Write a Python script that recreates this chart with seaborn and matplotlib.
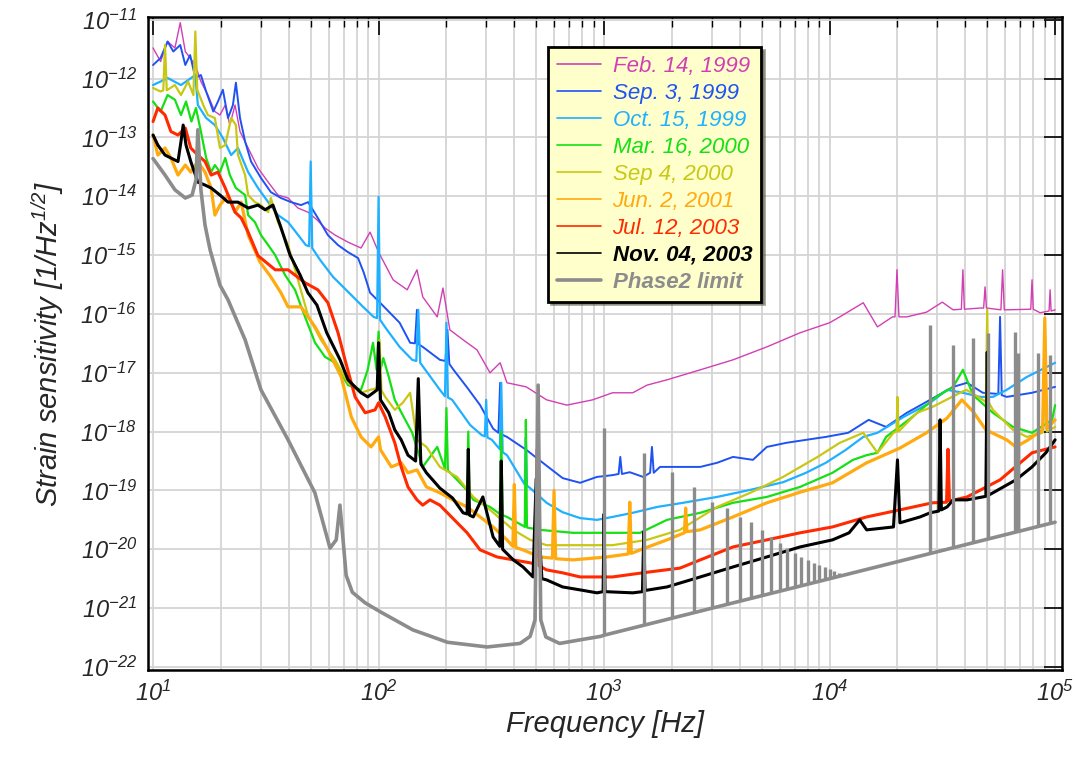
import numpy as np
import seaborn as sns
import matplotlib.pyplot as plt
from matplotlib import ticker

# Strain sensitivity curves.
# Frequencies in Hz, strain given as log10 of 1/sqrt(Hz)

feb99_hz = [10, 10.8, 11.6, 12.5, 13.2, 13.9, 14.6, 15.4, 16.3, 17.5, 18.8, 19.8, 20.9, 21.9, 23.1, 24.3,
            26.4, 29.2, 32.4, 35.8, 39.7, 43.9, 48.6, 53.3, 57.9, 64.1, 73.2, 83.6, 91.7, 100, 116, 134,
            148, 157, 182, 193, 207, 237, 273, 312, 346, 371, 452, 556, 684, 890, 1090, 1340, 1550, 1900,
            2670, 3730, 5270, 7400, 10000, 11100, 14100, 16300, 19000, 19500, 19900, 20300, 22000, 26900,
            31600, 35300, 38400, 39000, 39600, 46500, 48200, 48900, 49600, 57500, 58500, 59500, 61000,
            78000, 79000, 80000, 85800, 94000, 95000, 96000, 100000]
feb99_log = [-11.48, -11.71, -11.37, -11.48, -11.05, -11.54, -11.65, -11.77, -12.05, -12.28, -12.56, -12.62,
             -12.45, -12.79, -12.45, -12.90, -13.18, -13.52, -13.76, -13.98, -14.03, -14.20, -14.27, -14.40,
             -14.54, -14.66, -14.78, -14.88, -14.61, -14.95, -15.42, -15.59, -15.25, -15.71, -16.05, -15.56,
             -16.27, -16.44, -16.61, -17.00, -16.83, -17.17, -17.24, -17.46, -17.55, -17.46, -17.34, -17.34,
             -17.21, -17.12, -16.95, -16.78, -16.56, -16.32, -16.15, -16.05, -15.81, -16.22, -16.05, -16.05,
             -15.25, -16.05, -16.05, -15.97, -15.80, -15.93, -15.92, -15.25, -15.92, -15.90, -15.90, -15.54,
             -15.90, -15.93, -15.25, -15.93, -15.93, -15.92, -15.42, -15.92, -15.98, -15.95, -15.59, -15.95,
             -15.93]

sep99_hz = [10, 10.8, 11.6, 12.3, 13.2, 13.9, 14.6, 15.4, 16.3, 17.2, 18.5, 19.4, 20.4, 21.5, 22.6, 23.3,
            24.3, 25.6, 27.2, 30.1, 33.3, 36.9, 40.9, 45.3, 48.7, 53.8, 59.6, 66.1, 73.2, 81.1, 86, 91.7,
            98.6, 109, 124, 138, 145, 148, 151, 157, 187, 198, 202, 206, 215, 247, 282, 322, 340, 346, 352,
            371, 452, 556, 655, 783, 930, 1090, 1160, 1180, 1200, 1300, 1490, 1600, 1630, 1660, 1770, 2240,
            2670, 3170, 3730, 4570, 5270, 6440, 7860, 9620, 12100, 14900, 17800, 22000, 27900, 35300, 40700,
            47800, 56000, 57000, 58000, 61000, 79000, 100000]
sep99_log = [-11.77, -11.65, -11.37, -11.54, -11.43, -11.77, -11.60, -11.99, -11.94, -12.22, -12.56, -12.39,
             -12.19, -12.67, -12.45, -12.07, -12.67, -13.07, -13.41, -13.69, -13.93, -14.03, -14.10, -14.15,
             -14.10, -14.37, -14.66, -14.83, -14.95, -15.05, -15.30, -15.64, -15.76, -15.93, -16.15, -16.49,
             -16.50, -15.93, -16.52, -16.56, -16.78, -16.80, -16.27, -16.85, -16.95, -17.25, -17.55, -17.95,
             -18.02, -17.17, -18.05, -18.09, -18.31, -18.58, -18.79, -18.87, -18.77, -18.74, -18.72, -18.43,
             -18.72, -18.69, -18.77, -18.70, -18.26, -18.70, -18.60, -18.60, -18.60, -18.53, -18.43, -18.48,
             -18.26, -18.19, -18.14, -18.09, -18.02, -17.80, -17.92, -17.68, -17.46, -17.24, -17.17, -17.34,
             -17.36, -16.05, -17.38, -17.41, -17.34, -17.24]

oct99_hz = [10, 10.8, 11.6, 13.3, 15.4, 15.8, 17.2, 18.8, 20.4, 22.2, 23.8, 26.4, 29.2, 32.4, 35.8, 39.7,
            43.0, 47.6, 49.2, 50, 50.8, 55, 62.8, 69.6, 77.1, 85.4, 95, 98.5, 100, 101.5, 109, 124, 141,
            147, 150, 153, 187, 197, 200, 203, 212, 255, 287, 296, 300, 304, 318, 345, 350, 355, 371, 445,
            450, 455, 470, 556, 655, 783, 930, 1090, 1340, 1720, 2240, 3170, 4450, 6220, 7860, 9620, 11800,
            14100, 16300, 21300, 27900, 33200, 39000, 46500, 53000, 61000, 75000, 100000]
oct99_log = [-12.11, -12.05, -11.99, -12.11, -11.94, -12.45, -12.67, -12.79, -13.01, -13.30, -13.18, -13.59,
             -13.86, -14.10, -14.32, -14.44, -14.61, -14.83, -14.85, -13.41, -14.88, -15.08, -15.37, -15.54,
             -15.71, -15.88, -16.05, -16.07, -14.01, -16.10, -16.27, -16.56, -16.78, -16.80, -15.93, -16.83,
             -17.29, -17.40, -16.15, -17.42, -17.46, -17.89, -18.06, -18.08, -17.46, -18.10, -18.14, -18.30,
             -17.17, -18.35, -18.40, -18.90, -18.10, -18.92, -18.96, -19.21, -19.37, -19.47, -19.50, -19.45,
             -19.38, -19.28, -19.21, -19.11, -18.99, -18.86, -18.70, -18.53, -18.31, -18.09, -18.02, -17.75,
             -17.51, -17.29, -17.34, -17.41, -17.41, -17.29, -17.07, -16.83]

mar00_hz = [10, 10.8, 11.6, 12.5, 13.3, 14.0, 14.8, 15.5, 16.3, 17.2, 18.1, 18.8, 19.8, 20.9, 21.9, 23.3,
            25.6, 26.4, 28.3, 30.1, 32.4, 34.8, 38.5, 42.6, 47.2, 52.3, 57.9, 64.1, 73.2, 83.6, 89.5, 94.5,
            98, 100, 102, 105, 111, 118, 128, 141, 157, 182, 197, 200, 203, 223, 247, 250, 253, 263, 312,
            345, 350, 355, 371, 437, 445, 450, 455, 520, 728, 1030, 1445, 1900, 2670, 3730, 5270, 7400,
            10300, 12700, 14600, 16300, 17800, 23300, 29700, 35300, 39000, 43300, 53000, 65000, 79000,
            97000, 100000]
mar00_log = [-12.39, -12.56, -12.28, -12.36, -12.62, -12.39, -12.73, -12.50, -12.90, -13.35, -13.59, -13.47,
             -13.59, -13.35, -13.64, -13.86, -13.98, -14.32, -14.44, -14.66, -14.83, -15.00, -15.34, -15.59,
             -16.05, -16.49, -16.73, -16.83, -17.21, -17.29, -16.95, -16.49, -16.95, -16.30, -16.95, -16.75,
             -17.07, -17.46, -17.72, -18.02, -18.60, -18.26, -18.63, -17.60, -18.66, -18.82, -19.00, -18.00,
             -19.05, -19.16, -19.28, -19.40, -18.00, -19.42, -19.45, -19.60, -19.62, -17.80, -19.63, -19.67,
             -19.72, -19.72, -19.72, -19.50, -19.38, -19.21, -19.11, -18.94, -18.70, -18.48, -18.40, -18.36,
             -18.09, -17.75, -17.41, -17.24, -16.95, -17.38, -17.68, -17.92, -18.02, -17.80, -17.55]

sep00_hz = [10, 10.8, 11.1, 11.3, 11.5, 12.5, 13.3, 14.3, 15.1, 15.4, 15.7, 16.7, 17.5, 18.8, 19.8, 20.9,
            22.2, 23.3, 23.8, 25.6, 26.4, 28.3, 30.1, 32.4, 33.3, 35.8, 39.7, 43.9, 48.6, 55.5, 64.1, 73.2,
            83.6, 91.7, 99, 101, 103, 107, 118, 128, 138, 148, 163, 187, 223, 263, 312, 396, 470, 556, 783,
            1090, 1550, 2170, 3170, 4450, 6220, 8850, 11100, 14100, 16300, 19200, 19800, 20000, 20200,
            24400, 28600, 37900, 40400, 47800, 49300, 50000, 50700, 53000, 65000, 75000, 88000, 90000,
            92000, 100000]
sep00_log = [-12.16, -12.22, -12.20, -11.43, -12.20, -12.11, -12.28, -12.05, -12.28, -11.20, -12.19, -12.45,
             -12.62, -12.67, -13.18, -13.13, -12.67, -12.79, -13.30, -13.64, -13.98, -14.10, -14.15, -14.27,
             -14.03, -14.44, -14.83, -15.42, -16.02, -16.44, -16.78, -17.17, -17.34, -17.29, -17.26, -16.44,
             -17.30, -17.41, -17.63, -17.51, -17.34, -18.14, -18.26, -18.60, -18.77, -19.11, -19.33, -19.67,
             -19.84, -19.93, -19.93, -19.93, -19.84, -19.67, -19.28, -19.04, -18.77, -18.43, -18.19, -18.02,
             -18.36, -18.02, -18.00, -17.41, -18.00, -17.68, -17.58, -17.34, -17.29, -17.46, -17.50, -15.93,
             -17.50, -17.63, -17.97, -18.09, -18.02, -17.41, -18.00, -17.92]

jun01_hz = [10, 10.5, 11.3, 12.0, 12.9, 13.9, 14.7, 15.8, 17.0, 18.1, 18.8, 19.8, 21.5, 23.1, 24.6, 26.4,
            29.8, 33.3, 36.9, 39.7, 45.3, 52.3, 59.6, 68.3, 75.7, 83.6, 92.6, 100, 102, 114, 126, 135, 148,
            163, 187, 213, 247, 282, 322, 371, 394, 400, 406, 437, 520, 590, 600, 610, 728, 1030, 1280, 1300,
            1320, 1445, 1900, 2270, 2300, 2330, 2670, 3730, 5270, 7400, 10300, 14600, 20500, 26900, 33200,
            38600, 43300, 49300, 61000, 67000, 76000, 88000, 90000, 92000, 100000]
jun01_log = [-12.96, -13.30, -13.18, -13.35, -13.64, -13.47, -13.59, -13.41, -13.59, -13.86, -14.32, -14.15,
             -13.98, -14.27, -14.10, -14.66, -15.12, -15.37, -15.64, -15.88, -15.88, -16.22, -16.61, -17.07,
             -17.75, -18.09, -18.26, -18.09, -18.31, -18.60, -18.53, -18.70, -18.65, -18.94, -19.04, -19.16,
             -19.28, -19.45, -19.62, -19.84, -19.95, -18.90, -19.97, -20.01, -20.13, -20.15, -19.00, -20.16,
             -20.18, -20.13, -20.08, -19.20, -20.07, -20.01, -19.84, -19.72, -19.30, -19.70, -19.67, -19.45,
             -19.21, -19.03, -18.87, -18.53, -18.28, -18.02, -17.77, -17.46, -17.66, -17.97, -18.14, -18.26,
             -18.14, -17.97, -16.07, -17.95, -17.80]

jul03_hz = [10, 10.5, 11.3, 12.0, 12.9, 13.9, 14.7, 15.8, 17.0, 18.1, 19.4, 20.9, 23.1, 24.6, 26.4, 29.2,
            34.8, 39.7, 47.2, 53.8, 59.6, 66.1, 71.0, 78.7, 87.2, 96.5, 100, 107, 118, 126, 135, 148, 157,
            169, 187, 213, 247, 282, 335, 396, 470, 495, 505, 515, 556, 655, 783, 1090, 1550, 2170, 2670,
            3730, 5270, 7400, 10300, 14600, 20500, 28600, 33000, 33500, 34000, 40700, 57000, 79000, 100000]
jul03_log = [-12.73, -12.50, -12.62, -12.90, -12.96, -12.84, -13.18, -13.30, -13.41, -13.64, -13.59, -13.86,
             -14.27, -14.37, -14.61, -15.01, -15.25, -15.25, -15.47, -15.59, -15.81, -16.32, -16.78, -17.41,
             -17.68, -17.63, -17.51, -17.75, -18.19, -18.60, -18.94, -19.16, -19.25, -19.16, -19.25, -19.47,
             -19.72, -20.01, -20.13, -20.18, -20.23, -20.25, -18.30, -20.28, -20.35, -20.40, -20.47, -20.47,
             -20.39, -20.32, -20.18, -19.96, -19.84, -19.72, -19.62, -19.45, -19.33, -19.21, -19.20, -18.30,
             -19.18, -19.11, -18.82, -18.36, -18.26]

nov03_hz = [10, 10.5, 11.3, 12.0, 12.9, 13.3, 13.6, 14.0, 14.7, 15.8, 17.0, 18.1, 19.8, 21.5, 23.8, 26.4,
            29.2, 31.4, 34.0, 36.6, 40.5, 44.9, 48.6, 53.3, 58.9, 67.5, 73.2, 78.7, 83.6, 89.5, 98.6, 100,
            102, 111, 118, 126, 135, 146, 150, 154, 163, 187, 213, 237, 247, 250, 253, 263, 290, 322, 345,
            350, 355, 396, 437, 484, 500, 530, 556, 655, 783, 930, 990, 1000, 1010, 1340, 1480, 1500, 1520,
            1900, 2670, 3730, 5270, 7400, 10300, 12200, 13600, 14600, 19200, 20000, 20500, 25200, 27900,
            30500, 30900, 31300, 33200, 35300, 40700, 49300, 50000, 50700, 53000, 67000, 79000, 91000, 100000]
nov03_log = [-12.96, -13.13, -13.30, -13.35, -13.41, -13.07, -12.79, -13.13, -13.41, -13.76, -13.81, -13.86,
             -13.98, -14.10, -14.10, -14.20, -14.15, -14.23, -14.15, -14.49, -15.00, -15.34, -15.64, -15.85,
             -16.32, -16.78, -17.12, -17.24, -17.34, -17.41, -17.29, -16.49, -17.46, -17.68, -17.97, -18.14,
             -18.40, -18.50, -17.10, -18.55, -18.70, -18.96, -19.13, -19.38, -19.40, -18.30, -19.42, -19.45,
             -19.11, -19.79, -19.95, -18.50, -20.00, -20.18, -20.30, -20.47, -18.80, -20.50, -20.52, -20.64,
             -20.69, -20.74, -20.72, -19.40, -20.72, -20.74, -20.72, -19.70, -20.70, -20.64, -20.47, -20.30,
             -20.13, -19.96, -19.84, -19.72, -19.50, -19.67, -19.62, -18.48, -19.55, -19.45, -19.38, -19.35,
             -17.80, -19.33, -19.28, -19.16, -19.16, -19.10, -16.65, -19.08, -19.04, -18.82, -18.60, -18.36,
             -18.14]

# Phase2 design limit: smooth curve plus narrow line features
phase2_hz = [10, 11.3, 12.5, 13.9, 14.9, 15.5, 15.8, 16.3, 17.0, 17.9, 19.8, 21.5, 25.6, 30.1, 39.7, 52.2,
             60.9, 64.9, 67.4, 69.6, 71.8, 76.5, 87.2, 102.6, 142, 202, 303, 424, 470, 494, 510, 524, 552,
             635, 780, 965, 1000, 100000]
phase2_log = [-13.36, -13.64, -13.89, -14.03, -13.98, -13.72, -12.87, -13.89, -14.49, -14.91, -15.51, -15.76,
              -16.44, -17.29, -18.14, -19.04, -19.98, -19.84, -19.25, -19.84, -20.44, -20.73, -20.91, -21.07,
              -21.37, -21.58, -21.66, -21.60, -21.48, -21.20, -17.21, -21.20, -21.49, -21.60, -21.54, -21.48,
              -21.46, -19.54]
phase2_line_hz = [1000, 1500, 2000, 2500, 3000, 3500, 4000, 4500, 5000, 5500, 6000, 6500, 7000, 7500, 8000,
                  8500, 9000, 9500, 10000, 10500, 11000, 27900, 35300, 43300, 50400, 66500, 68800, 84100, 95100]
phase2_line_top = [-17.94, -18.36, -18.69, -18.94, -19.20, -19.30, -19.45, -19.54, -19.67, -19.79, -19.89,
                   -19.98, -20.06, -20.13, -20.18, -20.23, -20.27, -20.30, -20.34, -20.37, -20.40, -16.19,
                   -16.53, -16.41, -16.32, -16.31, -16.66, -16.66, -16.70]
phase2_line_base = [-21.46, -21.29, -21.17, -21.08, -21.00, -20.94, -20.88, -20.83, -20.79, -20.75, -20.71,
                    -20.68, -20.65, -20.62, -20.59, -20.57, -20.54, -20.52, -20.50, -20.48, -20.46, -20.07,
                    -19.97, -19.89, -19.82, -19.71, -19.70, -19.61, -19.56]

x_decades = [1, 2, 3, 4, 5]
y_decades = [-11, -12, -13, -14, -15, -16, -17, -18, -19, -20, -21, -22]

labels = ["Feb. 14, 1999", "Sep. 3, 1999", "Oct. 15, 1999", "Mar. 16, 2000", "Sep 4, 2000",
          "Jun. 2, 2001", "Jul. 12, 2003", "Nov. 04, 2003", "Phase2 limit"]
colors = ["#d23fb4", "#1f52f2", "#1fb0ff", "#14e014", "#c8c814", "#ffaa0f", "#ff2a00", "black", "#8c8c8c"]
widths = [1.0, 1.4, 1.6, 1.6, 1.6, 2.3, 2.2, 2.2]

sns.set_theme(style="white")
plt.rcParams['font.family'] = ['Liberation Sans', 'DejaVu Sans']
plt.rcParams['font.style'] = 'italic'
plt.rcParams['mathtext.fontset'] = 'custom'
plt.rcParams['mathtext.rm'] = 'Liberation Sans:italic'
plt.rcParams['mathtext.it'] = 'Liberation Sans:italic'
plt.rcParams['mathtext.bf'] = 'Liberation Sans:bold:italic'

fig = plt.figure(figsize=(10.75, 7.63), dpi=100)
ax = fig.add_axes([0.1377, 0.122, 0.8503, 0.856])
ax.set_xscale("log")
ax.set_yscale("log")

curves = [(feb99_hz, feb99_log), (sep99_hz, sep99_log), (oct99_hz, oct99_log), (mar00_hz, mar00_log),
          (sep00_hz, sep00_log), (jun01_hz, jun01_log), (jul03_hz, jul03_log), (nov03_hz, nov03_log)]
for (hz, lg), lab, col, lw in zip(curves, labels[:-1], colors[:-1], widths):
    sns.lineplot(x=hz, y=10.0 ** np.array(lg), color=col, lw=lw, sort=False,
                 estimator=None, label=lab, ax=ax)

sns.lineplot(x=phase2_hz, y=10.0 ** np.array(phase2_log), color=colors[-1], lw=2.6,
             sort=False, estimator=None, label=labels[-1], ax=ax, zorder=5)
ax.vlines(phase2_line_hz, 10.0 ** np.array(phase2_line_base), 10.0 ** np.array(phase2_line_top),
          color=colors[-1], lw=2.4, zorder=5)

ax.set_xlim(9.5, 1.074e5)
ax.set_ylim(10 ** -22.05, 10 ** -10.95)

# only the decades that fall inside the frame
ax.set_xticks([10.0 ** d for d in x_decades])
ax.set_xticks([m * 10.0 ** d for d in x_decades[:-1] for m in range(2, 10)], minor=True)
ax.set_yticks([10.0 ** d for d in y_decades])
ax.yaxis.set_minor_locator(ticker.NullLocator())
ax.set_xticklabels([r"$10^{%d}$" % d for d in x_decades])
ax.set_yticklabels([r"$10^{%d}$" % d for d in y_decades])

ax.grid(True, which="major", color="#d4d4d4", lw=1.3)
ax.grid(True, which="minor", axis="x", color="#d4d4d4", lw=1.3)
ax.tick_params(which="major", direction="in", length=13, width=1.2, top=True, right=True,
               labelsize=17, color="black", pad=8)
ax.tick_params(which="minor", direction="in", length=7, width=1.0, top=True, right=True, color="black")
for s in ax.spines.values():
    s.set_color("black")
    s.set_linewidth(1.8)

ax.set_xlabel("Frequency [Hz]", fontsize=21, labelpad=3)
ax.set_ylabel("Strain sensitivity [1/Hz$^{1/2}$]", fontsize=21, labelpad=10)

leg = ax.legend(loc="upper left", bbox_to_anchor=((548 - 148) / 914, 1 - (47 - 17) / 653),
                borderaxespad=0, fontsize=16, labelspacing=0.27, handlelength=2.0,
                handletextpad=0.5, borderpad=0.4, frameon=True, fancybox=False, shadow=True,
                facecolor="#ffffcc", edgecolor="black", framealpha=1, labelcolor="linecolor")
leg.get_frame().set_linewidth(2)
for h in leg.get_lines()[:-1]:
    h.set_linewidth(1.2)
for t in leg.get_texts()[-2:]:
    t.set_fontweight("bold")

fig.savefig("out.png", dpi=100)
